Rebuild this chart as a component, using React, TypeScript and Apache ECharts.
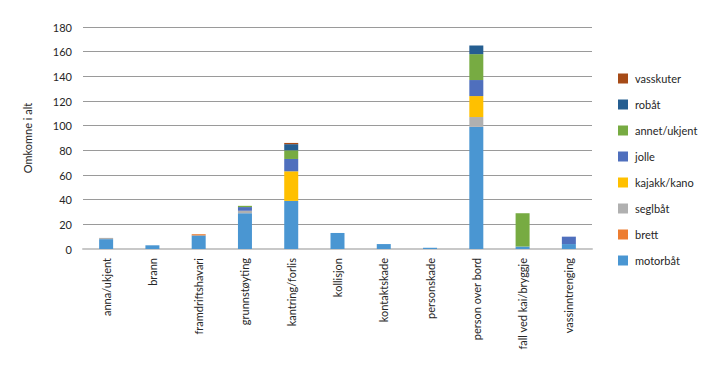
import React, { useEffect, useRef } from "react";
import * as echarts from "echarts";

const categories = [
  "anna/ukjent",
  "brann",
  "framdriftshavari",
  "grunnstøyting",
  "kantring/forlis",
  "kollisjon",
  "kontaktskade",
  "personskade",
  "person over bord",
  "fall ved kai/bryggje",
  "vassinntrenging",
];

const motorbat = [8, 3, 11, 29, 39, 13, 4, 1, 99, 2, 4];
const brett = [0, 0, 1, 0, 0, 0, 0, 0, 0, 0, 0];
const seglbat = [1, 0, 0, 2, 0, 0, 0, 0, 8, 0, 0];
const kajakk = [0, 0, 0, 0, 24, 0, 0, 0, 17, 0, 0];
const jolle = [0, 0, 0, 3, 10, 0, 0, 0, 13, 0, 6];
const annet = [0, 0, 0, 1, 7, 0, 0, 0, 21, 27, 0];
const robat = [0, 0, 0, 0, 5, 0, 0, 0, 7, 0, 0];
const vasskuter = [0, 0, 0, 0, 1, 0, 0, 0, 0, 0, 0];

const seriesDefs = [
  { name: "motorbåt", data: motorbat, color: "#4a96d2" },
  { name: "brett", data: brett, color: "#ed7d31" },
  { name: "seglbåt", data: seglbat, color: "#b0b0b0" },
  { name: "kajakk/kano", data: kajakk, color: "#ffc000" },
  { name: "jolle", data: jolle, color: "#4f6fbd" },
  { name: "annet/ukjent", data: annet, color: "#77ab42" },
  { name: "robåt", data: robat, color: "#255e91" },
  { name: "vasskuter", data: vasskuter, color: "#a64b17" },
];

const FONT = "Lato";
const TXT = "#262626";

export default function App() {
  const ref = useRef<HTMLDivElement>(null);
  useEffect(() => {
    if (!ref.current) return;
    const chart = echarts.init(ref.current, null, { renderer: "svg" });
    chart.setOption({
      animation: false,
      textStyle: { fontFamily: FONT },
      grid: { left: 83, right: 127, top: 27, bottom: 134, containLabel: false },
      legend: {
        orient: "vertical",
        left: 613,
        top: 68,
        itemWidth: 10,
        itemHeight: 10,
        itemGap: 15,
        icon: "rect",
        data: seriesDefs.map((s) => s.name).reverse(),
        textStyle: { fontFamily: FONT, fontSize: 11, color: TXT, padding: [0, 0, 0, 2] },
      },
      xAxis: {
        type: "category",
        data: categories,
        axisTick: { show: false },
        axisLine: { lineStyle: { color: "#c8c8c8", width: 2 } },
        axisLabel: {
          rotate: 90,
          interval: 0,
          margin: 9,
          fontSize: 11,
          color: TXT,
          fontFamily: FONT,
        },
      },
      yAxis: {
        type: "value",
        min: 0,
        max: 180,
        interval: 20,
        name: "Omkomne i alt",
        nameLocation: "middle",
        nameGap: 50,
        nameTextStyle: { fontSize: 11, color: TXT, fontFamily: FONT },
        axisLine: { show: false },
        axisTick: { show: false },
        axisLabel: { fontSize: 11, color: TXT, margin: 11, fontFamily: FONT },
        splitLine: { lineStyle: { color: "#9a9a9a", width: 1 } },
      },
      series: seriesDefs.map((s) => ({
        name: s.name,
        type: "bar",
        stack: "total",
        data: s.data,
        barWidth: 14,
        itemStyle: { color: s.color },
      })),
    });
    return () => chart.dispose();
  }, []);
  return <div ref={ref} style={{ width: 719, height: 383, margin: -8 }} />;
}
